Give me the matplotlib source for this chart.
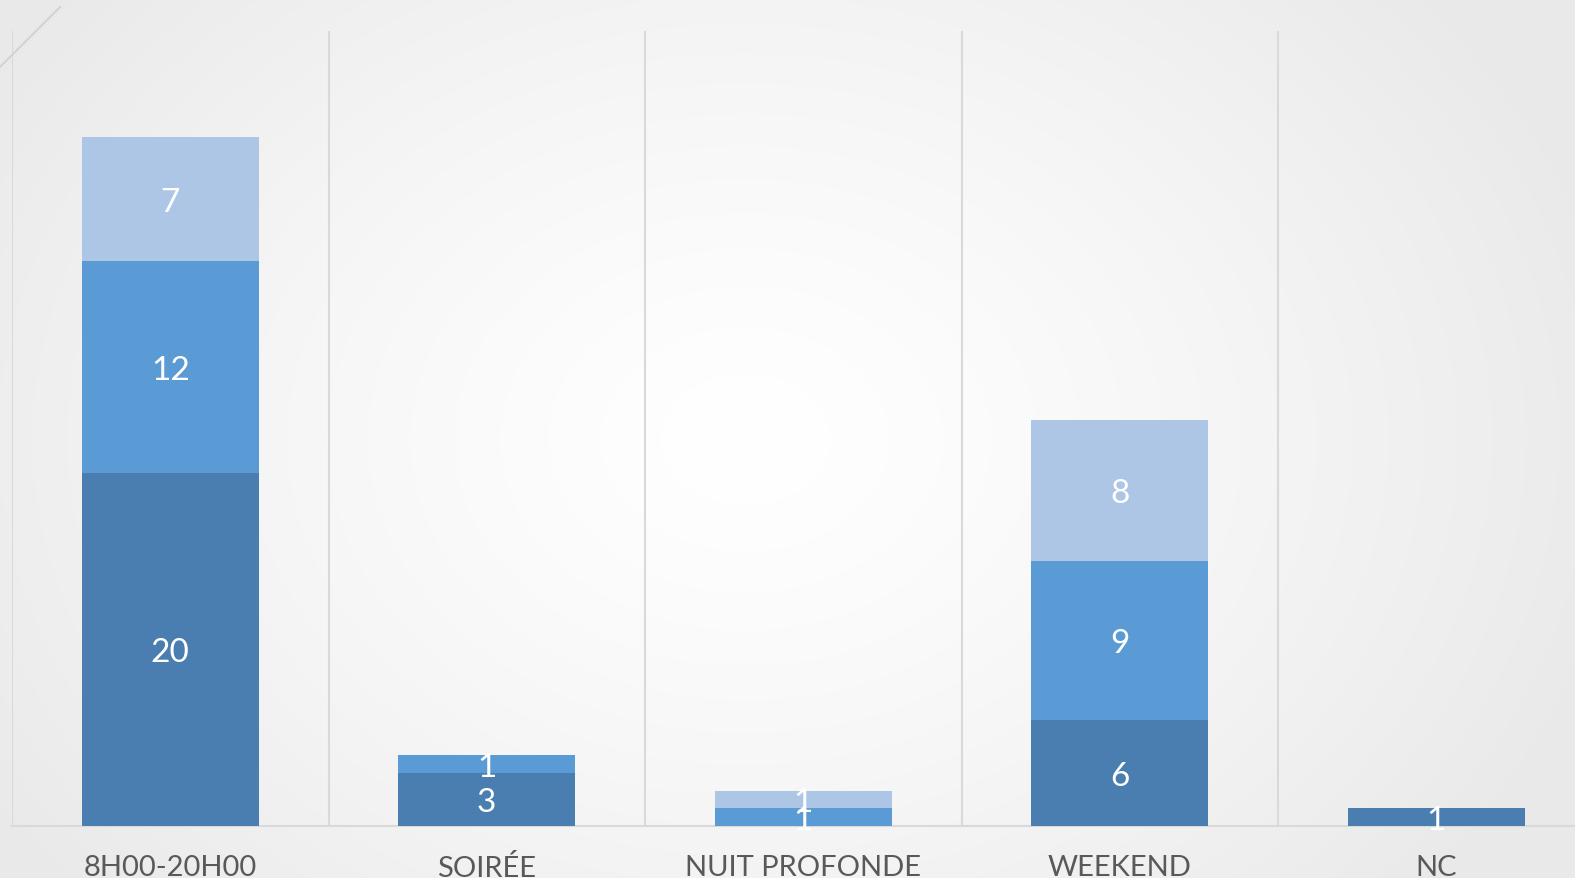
import numpy as np
import matplotlib.pyplot as plt
from matplotlib.lines import Line2D

# données
categories = ['8H00-20H00', 'SOIRÉE', 'NUIT PROFONDE', 'WEEKEND', 'NC']
serie_bas = [20, 3, 0, 6, 1]
serie_milieu = [12, 1, 1, 9, 0]
serie_haut = [7, 0, 1, 8, 0]

couleurs = ['#4A7EB0', '#5B9BD5', '#ADC6E5']

fig = plt.figure(figsize=(15.75, 8.79), dpi=100)

# fond en dégradé radial
bg = fig.add_axes([0, 0, 1, 1], zorder=-10)
yy, xx = np.mgrid[0:879, 0:1575]
r = np.sqrt(((xx - 745) / 900.0) ** 2 + ((yy - 440) / 700.0) ** 2)
val = 1.0 - 0.085 * np.clip(r, 0, 1) ** 1.3
bg.imshow(np.dstack([val, val, val]), aspect='auto', extent=[0, 1, 0, 1])
bg.set_xlim(0, 1)
bg.set_ylim(0, 1)
bg.axis('off')

# trait décoratif en haut à gauche
fig.add_artist(Line2D([0, 60 / 1575], [1 - 68 / 879, 1 - 8 / 879],
                      transform=fig.transFigure, color='#CFCFCF', lw=1.2))

ax = fig.add_axes([12 / 1575, 52 / 879, 1582.5 / 1575, 795 / 879])
ax.patch.set_alpha(0)

x = np.arange(len(categories))
w = 0.56
bas = np.array(serie_bas)
mil = np.array(serie_milieu)
haut = np.array(serie_haut)

b1 = ax.bar(x, bas, w, color=couleurs[0], zorder=3)
b2 = ax.bar(x, mil, w, bottom=bas, color=couleurs[1], zorder=3)
b3 = ax.bar(x, haut, w, bottom=bas + mil, color=couleurs[2], zorder=3)

# étiquettes de valeurs au centre des segments
for bars, vals in [(b1, bas), (b2, mil), (b3, haut)]:
    for rect, v in zip(bars, vals):
        if v > 0:
            ax.text(rect.get_x() + rect.get_width() / 2,
                    rect.get_y() + rect.get_height() / 2, str(v),
                    ha='center', va='center_baseline', color='white',
                    fontsize=24, family=['Lato', 'DejaVu Sans'], zorder=4)

ax.set_xlim(-0.5, 4.5)
ax.set_ylim(0, 45)
ax.set_xticks(x)
ax.set_xticklabels(categories, fontsize=21, color='#595959',
                   family=['Lato', 'DejaVu Sans'])
ax.tick_params(axis='x', length=0, pad=20)
ax.set_yticks([])

# lignes verticales entre catégories
ax.set_xticks(np.arange(-0.5, 4.6, 1), minor=True)
ax.tick_params(axis='x', which='minor', length=0)
ax.grid(axis='x', which='minor', color='#D9D9D9', lw=1.5, zorder=0)
ax.grid(axis='x', which='major', visible=False)

for s in ['top', 'right', 'left']:
    ax.spines[s].set_visible(False)
ax.spines['bottom'].set_color('#D9D9D9')
ax.spines['bottom'].set_linewidth(1.5)

fig.savefig('out.png', dpi=100)
